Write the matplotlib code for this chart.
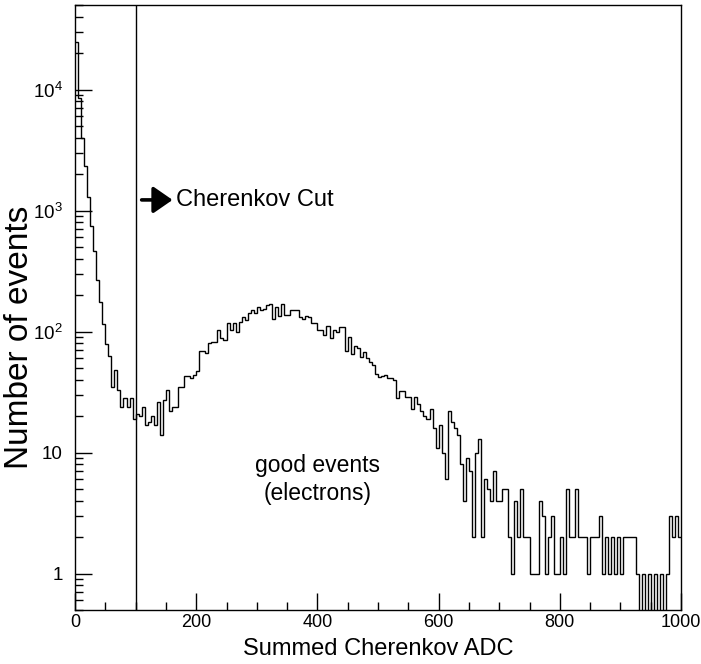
import numpy as np
import matplotlib
matplotlib.use("Agg")
import matplotlib.pyplot as plt
from matplotlib.ticker import FixedLocator, LogLocator, NullFormatter, MultipleLocator

plt.rcParams["font.family"] = ["Liberation Sans", "DejaVu Sans"]

# summed Cherenkov ADC spectrum, 5-channel bins from 0 to 1000
bin_width = 5
counts = [
    24900, 8500, 4000, 2340, 1290, 750, 465, 267, 175, 116,
    79, 63, 35, 48, 33, 24, 28, 24, 28, 19,
    21, 20, 24, 17, 18, 20, 17, 26, 14, 27,
    33, 22, 24, 24, 35, 35, 43, 43, 41, 44,
    47, 69, 69, 66, 81, 82, 82, 104, 88, 85,
    117, 103, 117, 100, 121, 133, 125, 142, 150, 142,
    161, 150, 155, 166, 168, 127, 161, 134, 169, 137,
    137, 150, 150, 152, 131, 127, 134, 131, 117, 117,
    104, 104, 94, 111, 88, 104, 100, 110, 110, 69,
    91, 65, 76, 73, 62, 68, 60, 56, 53, 45,
    42, 43, 44, 41, 41, 40, 28, 32, 32, 29,
    29, 23, 29, 25, 22, 20, 19, 23, 16, 11,
    17, 10, 6, 22, 18, 16, 14, 8, 4, 9,
    7, 2, 10, 13, 2, 6, 5, 4, 7, 4,
    4, 5, 5, 2, 1, 4, 2, 5, 2, 2,
    1, 1, 1, 4, 3, 1, 2, 3, 1, 1,
    2, 1, 5, 2, 2, 5, 2, 2, 2, 1,
    2, 2, 2, 3, 1, 2, 1, 2, 1, 2,
    1, 2, 2, 2, 2, 1, 0, 1, 0, 1,
    0, 1, 0, 1, 0, 1, 3, 2, 3, 2,
]
edges = np.arange(len(counts) + 1) * bin_width

cut_value = 100
y_major = [1, 10, 100, 1000, 10000]
y_labels = ["1", "10", r"$\mathregular{10^{2}}$", r"$\mathregular{10^{3}}$",
            r"$\mathregular{10^{4}}$"]
x_major = [0, 200, 400, 600, 800, 1000]

fig = plt.figure(figsize=(7.01, 6.64), dpi=100)
ax = fig.add_axes([75 / 701, 1 - 610 / 664, 606 / 701, 605 / 664])

ax.stairs(counts, edges, baseline=None, color="black", linewidth=1.0)
ax.axvline(cut_value, color="black", linewidth=1.0)

ax.set_yscale("log", nonpositive="clip")
ax.set_xlim(0, 1000)
ax.set_ylim(0.5, 5e4)

ax.yaxis.set_major_locator(FixedLocator(y_major))
ax.set_yticklabels(y_labels)
ax.yaxis.set_minor_locator(LogLocator(base=10, subs=np.arange(2, 10)))
ax.yaxis.set_minor_formatter(NullFormatter())
ax.xaxis.set_major_locator(FixedLocator(x_major))
ax.xaxis.set_minor_locator(MultipleLocator(50))

ax.tick_params(which="both", direction="in", top=False, right=False,
               width=1.0, color="black")
ax.tick_params(which="major", length=12)
ax.tick_params(which="minor", length=6)
ax.tick_params(axis="y", pad=9, labelsize=13.5)
ax.tick_params(axis="x", pad=3, labelsize=13)
for spine in ax.spines.values():
    spine.set_linewidth(1.0)

ax.set_xlabel("Summed Cherenkov ADC", fontsize=17, labelpad=5)
ax.set_ylabel("Number of events", fontsize=24, va="center")
ax.yaxis.set_label_coords(-0.0924, 0.451)

# arrow marking the accepted side of the cut
ax.annotate("", xy=(161, 1225), xytext=(110, 1225),
            arrowprops=dict(arrowstyle="-|>,head_length=0.65,head_width=0.45",
                            lw=2.6, color="black", mutation_scale=18,
                            shrinkA=0, shrinkB=0))
ax.text(166, 1225, "Cherenkov Cut", fontsize=17, ha="left", va="center")
ax.text(400, 6.0, "good events\n(electrons)", fontsize=16.5, ha="center",
        va="center", linespacing=1.3)

fig.savefig("out.png", dpi=100)
